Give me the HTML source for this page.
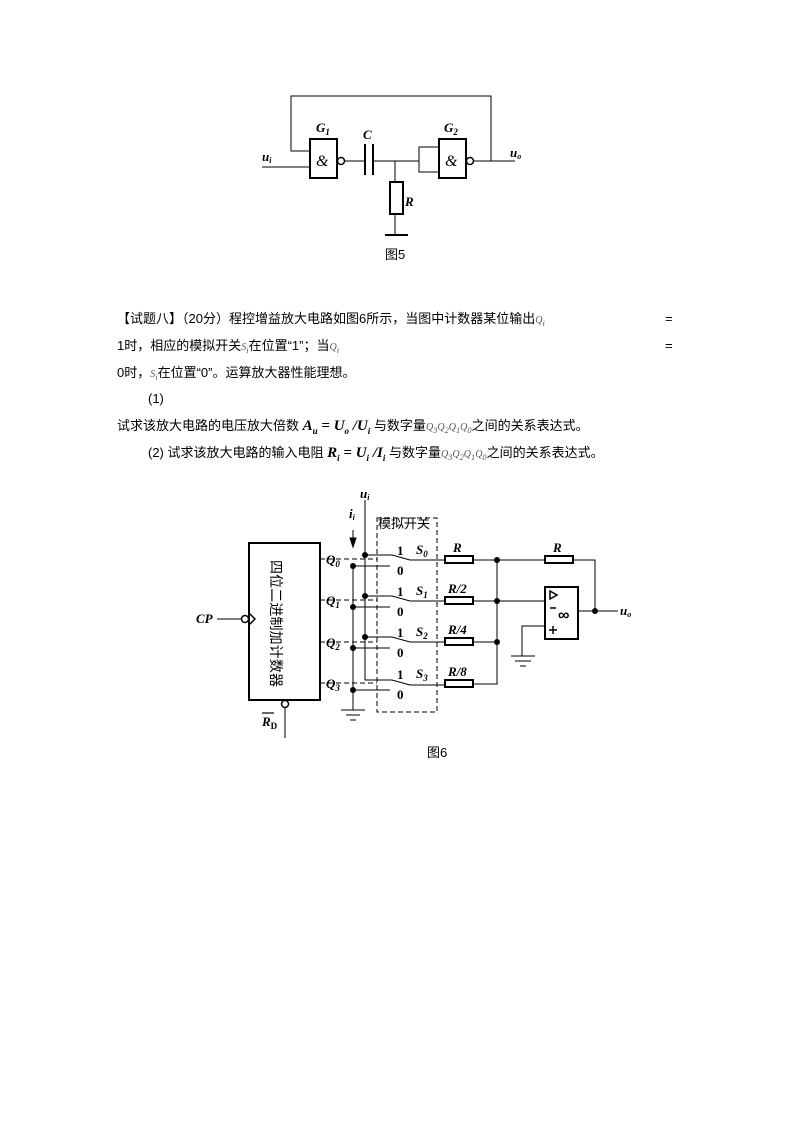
<!DOCTYPE html>
<html><head><meta charset="utf-8"><style>
html,body{margin:0;padding:0;background:#fff;}
body{width:794px;height:1123px;position:relative;overflow:hidden;font-family:"Liberation Sans","Noto Sans CJK SC",sans-serif;}
.t{position:absolute;font-size:13px;color:#000;white-space:nowrap;line-height:15px;}
i.m{font-family:"Liberation Serif",serif;font-style:italic;font-size:10px;color:#555;}
b.m{font-family:"Liberation Serif",serif;font-style:italic;font-weight:bold;font-size:15px;}
</style></head><body>
<svg width="794" height="1123" style="position:absolute;left:0;top:0" xmlns="http://www.w3.org/2000/svg">
<g stroke="#000" stroke-width="1" fill="none">
<polyline points="310,151 291,151 291,96 491,96 491,161"/>
<line x1="262" y1="167" x2="310" y2="167"/>
<rect x="310" y="139" width="27" height="39" stroke-width="2"/>
<circle cx="341" cy="161" r="3.5" stroke-width="1.5"/>
<line x1="345" y1="161" x2="365" y2="161"/>
<line x1="365" y1="144" x2="365" y2="175" stroke-width="2"/>
<line x1="373" y1="144" x2="373" y2="175" stroke-width="2"/>
<line x1="373" y1="161" x2="419" y2="161"/>
<polyline points="439,147 419,147 419,172 439,172"/>
<rect x="439" y="139" width="27" height="39" stroke-width="2"/>
<circle cx="470" cy="161" r="3.5" stroke-width="1.5"/>
<line x1="474" y1="161" x2="515" y2="161"/>
<line x1="395" y1="161" x2="395" y2="182"/>
<rect x="390" y="182" width="13" height="32" stroke-width="2"/>
<line x1="395" y1="214" x2="395" y2="235"/>
<line x1="385" y1="235" x2="408" y2="235" stroke-width="2"/>
<rect x="249" y="543" width="71" height="157" stroke-width="2"/>
<line x1="217" y1="619" x2="241" y2="619"/>
<circle cx="245" cy="619" r="3.5" stroke-width="1.5"/>
<polyline points="249,613 255,619 249,625" stroke-width="1.5"/>
<circle cx="285" cy="704" r="3.5" stroke-width="1.5"/>
<line x1="285" y1="708" x2="285" y2="738"/>
<g stroke-dasharray="5,3">
<line x1="320" y1="559" x2="377" y2="559"/>
<line x1="320" y1="600" x2="377" y2="600"/>
<line x1="320" y1="642" x2="377" y2="642"/>
<line x1="320" y1="683" x2="377" y2="683"/>
<rect x="377" y="518" width="60" height="194"/>
</g>
<polyline points="365,500 365,680 392,680 410,685 445,685"/>
<polyline points="365,555 392,555 410,560 445,560"/>
<polyline points="365,596 392,596 410,601 445,601"/>
<polyline points="365,637 392,637 410,642 445,642"/>
<line x1="353" y1="566" x2="353" y2="710"/>
<line x1="353" y1="566" x2="390" y2="566"/>
<line x1="353" y1="607" x2="390" y2="607"/>
<line x1="353" y1="648" x2="390" y2="648"/>
<line x1="353" y1="690" x2="390" y2="690"/>
<line x1="341" y1="710" x2="365" y2="710"/>
<line x1="346" y1="715" x2="360" y2="715"/>
<line x1="350" y1="720" x2="356" y2="720"/>
<line x1="353" y1="530" x2="353" y2="540"/>
<polygon points="350,538 356,538 353,547" fill="#000"/>
<rect x="445" y="556" width="28" height="7" stroke-width="2"/>
<rect x="445" y="597" width="28" height="7" stroke-width="2"/>
<rect x="445" y="638" width="28" height="7" stroke-width="2"/>
<rect x="445" y="680" width="28" height="7" stroke-width="2"/>
<line x1="473" y1="560" x2="545" y2="560"/>
<line x1="473" y1="601" x2="545" y2="601"/>
<line x1="473" y1="642" x2="497" y2="642"/>
<polyline points="473,684 497,684 497,560"/>
<rect x="545" y="556" width="28" height="7" stroke-width="2"/>
<polyline points="573,560 595,560 595,611"/>
<rect x="545" y="587" width="33" height="52" stroke-width="2"/>
<polygon points="550,591 557,595 550,599" stroke-width="1.5"/>
<line x1="550" y1="608" x2="556" y2="608" stroke-width="1.5"/>
<line x1="549" y1="630" x2="557" y2="630" stroke-width="1.5"/><line x1="553" y1="626" x2="553" y2="634" stroke-width="1.5"/>
<polyline points="545,626 522,626 522,656"/>
<line x1="511" y1="656" x2="535" y2="656"/>
<line x1="515" y1="661" x2="531" y2="661"/>
<line x1="520" y1="666" x2="526" y2="666"/>
<line x1="578" y1="611" x2="618" y2="611"/>
</g>
<g fill="#000">
<circle cx="365" cy="555" r="3"/><circle cx="365" cy="596" r="3"/><circle cx="365" cy="637" r="3"/>
<circle cx="353" cy="566" r="3"/><circle cx="353" cy="607" r="3"/><circle cx="353" cy="648" r="3"/><circle cx="353" cy="690" r="3"/>
<circle cx="497" cy="560" r="3"/><circle cx="497" cy="601" r="3"/><circle cx="497" cy="642" r="3"/>
<circle cx="595" cy="611" r="3"/>
</g>
<g font-family="Liberation Serif,serif" font-style="italic" font-size="16">
<text x="316" y="166">&amp;</text>
<text x="445" y="166">&amp;</text>
</g>
<g font-family="Liberation Serif,serif" font-weight="bold" font-style="italic" font-size="13">
<text x="316" y="132">G<tspan font-size="9" dy="3">1</tspan></text>
<text x="363" y="139">C</text>
<text x="444" y="132">G<tspan font-size="9" dy="3">2</tspan></text>
<text x="405" y="206">R</text>
<text x="262" y="161">u<tspan font-size="8" dy="2">i</tspan></text>
<text x="510" y="157">u<tspan font-size="8" dy="2">o</tspan></text>
<text x="326" y="564">Q<tspan font-size="9" dy="3">0</tspan></text>
<text x="326" y="605">Q<tspan font-size="9" dy="3">1</tspan></text>
<text x="326" y="647">Q<tspan font-size="9" dy="3">2</tspan></text>
<text x="326" y="688">Q<tspan font-size="9" dy="3">3</tspan></text>
<text x="196" y="623">CP</text>
<text x="262" y="726">R<tspan font-size="9" dy="3" font-style="normal">D</tspan></text>
<text x="360" y="498">u<tspan font-size="8" dy="2">i</tspan></text>
<text x="349" y="518">i<tspan font-size="8" dy="2">i</tspan></text>
<text x="416" y="554">S<tspan font-size="9" dy="3">0</tspan></text>
<text x="416" y="595">S<tspan font-size="9" dy="3">1</tspan></text>
<text x="416" y="636">S<tspan font-size="9" dy="3">2</tspan></text>
<text x="416" y="678">S<tspan font-size="9" dy="3">3</tspan></text>
<text x="453" y="552">R</text>
<text x="448" y="593">R/2</text>
<text x="448" y="634">R/4</text>
<text x="448" y="676">R/8</text>
<text x="553" y="552">R</text>
<text x="620" y="615">u<tspan font-size="8" dy="2">o</tspan></text>
</g>
<line x1="262" y1="713" x2="274" y2="713" stroke="#000" stroke-width="1.2"/>
<g font-family="Liberation Serif,serif" font-weight="bold" font-size="13">
<text x="397" y="555">1</text><text x="397" y="575">0</text>
<text x="397" y="596">1</text><text x="397" y="616">0</text>
<text x="397" y="637">1</text><text x="397" y="657">0</text>
<text x="397" y="679">1</text><text x="397" y="699">0</text>
</g>
<text x="558" y="620" font-family="Liberation Sans,sans-serif" font-size="16" font-weight="bold">∞</text>
<text transform="translate(271,560) rotate(90)" font-family="Noto Sans CJK SC,sans-serif" font-size="14" textLength="127" lengthAdjust="spacing">四位二进制加计数器</text>
</svg>
<div class="t" style="left:385px;top:247px;font-size:13px">图5</div>
<div class="t" style="left:378px;top:516px;font-size:13px">模拟开关</div>
<div class="t" style="left:427px;top:745px;font-size:13px">图6</div>
<div class="t" style="left:117px;top:311px">【试题八】（20分）程控增益放大电路如图6所示，当图中计数器某位输出<i class="m">Q<sub>i</sub></i></div>
<div class="t" style="left:665px;top:311px">=</div>
<div class="t" style="left:117px;top:338px">1时，相应的模拟开关<i class="m">S<sub>i</sub></i>在位置“1”；当<i class="m">Q<sub>i</sub></i></div>
<div class="t" style="left:665px;top:338px">=</div>
<div class="t" style="left:117px;top:365px">0时，<i class="m">S<sub>i</sub></i>在位置“0”。运算放大器性能理想。</div>
<div class="t" style="left:148px;top:391px">(1)</div>
<div class="t" style="left:117px;top:418px">试求该放大电路的电压放大倍数 <b class="m">A<sub style="font-size:9px">u</sub> = U<sub style="font-size:9px">o</sub> /U<sub style="font-size:9px">i</sub></b> 与数字量<i class="m">Q<sub>3</sub>Q<sub>2</sub>Q<sub>1</sub>Q<sub>0</sub></i>之间的关系表达式。</div>
<div class="t" style="left:148px;top:445px">(2) 试求该放大电路的输入电阻 <b class="m">R<sub style="font-size:9px">i</sub> = U<sub style="font-size:9px">i</sub> /I<sub style="font-size:9px">i</sub></b> 与数字量<i class="m">Q<sub>3</sub>Q<sub>2</sub>Q<sub>1</sub>Q<sub>0</sub></i>之间的关系表达式。</div>
</body></html>
